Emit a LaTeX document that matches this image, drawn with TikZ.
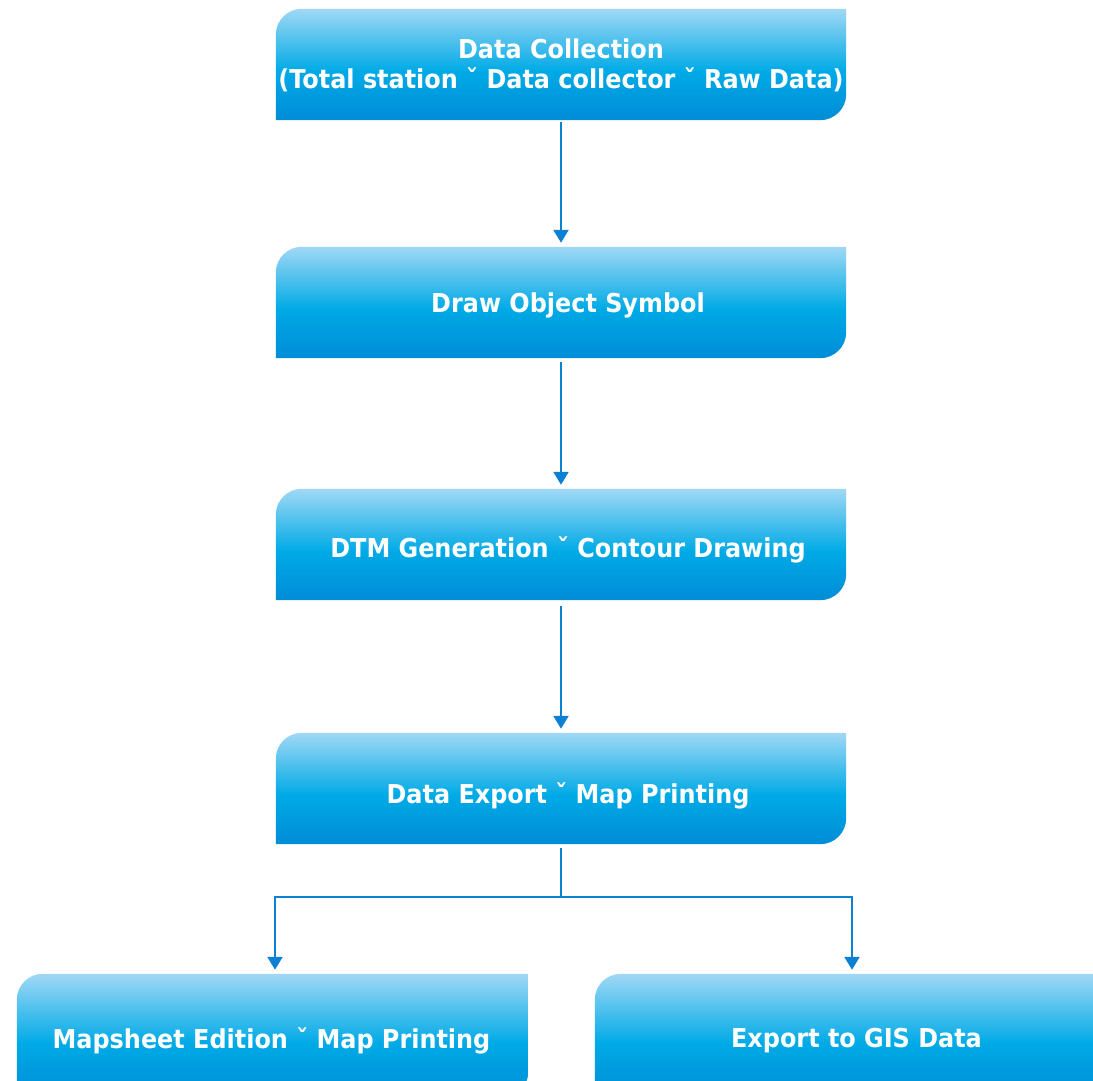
\documentclass[tikz,border=0pt]{standalone}
\usepackage{fontspec}
\newfontfamily\boxfont{DejaVu Sans}[FakeStretch=0.92]
\usetikzlibrary{arrows.meta,calc}
\definecolor{cT}{RGB}{160,216,245}
\definecolor{cM}{RGB}{0,170,230}
\definecolor{cB}{RGB}{0,140,215}
\definecolor{arr}{RGB}{12,128,210}
\pgfdeclareverticalshading{boxshade}{100bp}{color(0bp)=(cB); color(25bp)=(cB); color(47bp)=(cM); color(75bp)=(cT); color(100bp)=(cT)}
\pgfdeclarelayer{bg}
\pgfsetlayers{bg,main}
\newcommand\boxshape[1]{%
  \shade[shading=boxshade] (#1.south west) -- ($(#1.north west)+(0,-26)$)
    arc[start angle=180,end angle=90,radius=26pt] -- (#1.north east)
    -- ($(#1.south east)+(0,26)$) arc[start angle=0,end angle=-90,radius=26pt] -- cycle;}
\newcommand\tx[3]{\raisebox{#2}[\height][\depth]{\hspace*{#1}#3\hspace*{-#1}}}
\begin{document}
\begin{tikzpicture}[x=1pt,y=1pt,
  stepbox/.style={rectangle,inner sep=0pt,minimum width=570pt,minimum height=111pt,
    text=white,align=center,font=\boxfont\bfseries\fontsize{26}{32}\selectfont},
  smallbox/.style={stepbox,minimum width=511pt,minimum height=124pt},
  conn/.style={draw=arr,line width=2.2pt},
  arrowc/.style={conn,-{Triangle[width=15pt,length=13pt]},shorten >=4pt}]
\useasboundingbox (0,0) rectangle (1093,1080);
\node[stepbox] (b1) at (561,1015.5) {\tx{0pt}{-2pt}{Data Collection}\\(Total station ˇ Data collector ˇ Raw Data)};
\node[stepbox] (b2) at (561,777.5) {\tx{7pt}{-3pt}{Draw Object Symbol}};
\node[stepbox] (b3) at (561,535.5) {\tx{7pt}{-5pt}{DTM Generation ˇ Contour Drawing}};
\node[stepbox] (b4) at (561,291.5) {\tx{7pt}{-7pt}{Data Export ˇ Map Printing}};
\node[smallbox] (b5) at (272.5,44) {\tx{-1pt}{-5pt}{Mapsheet Edition ˇ Map Printing}};
\node[smallbox] (b6) at (850.5,44) {\tx{6pt}{-5pt}{Export to GIS Data}};
\begin{pgfonlayer}{bg}
\fill[white] (0,0) rectangle (1093,1080);
\begin{scope}
\clip (0,0) rectangle (1093,1080);
\boxshape{b1}\boxshape{b2}\boxshape{b3}\boxshape{b4}\boxshape{b5}\boxshape{b6}
\end{scope}
\end{pgfonlayer}
\coordinate (j) at (561,183);
\draw[arrowc,shorten <=2pt] (b1.south) -- (b2.north);
\draw[arrowc,shorten <=4pt] (b2.south) -- (b3.north);
\draw[arrowc,shorten <=6pt] (b3.south) -- (b4.north);
\draw[conn,shorten <=4pt] (b4.south) -- (j);
\draw[arrowc] (j) -| ($(b5.north)+(2.5,0)$);
\draw[arrowc] (j) -| ($(b6.north)+(1.5,0)$);
\end{tikzpicture}
\end{document}
